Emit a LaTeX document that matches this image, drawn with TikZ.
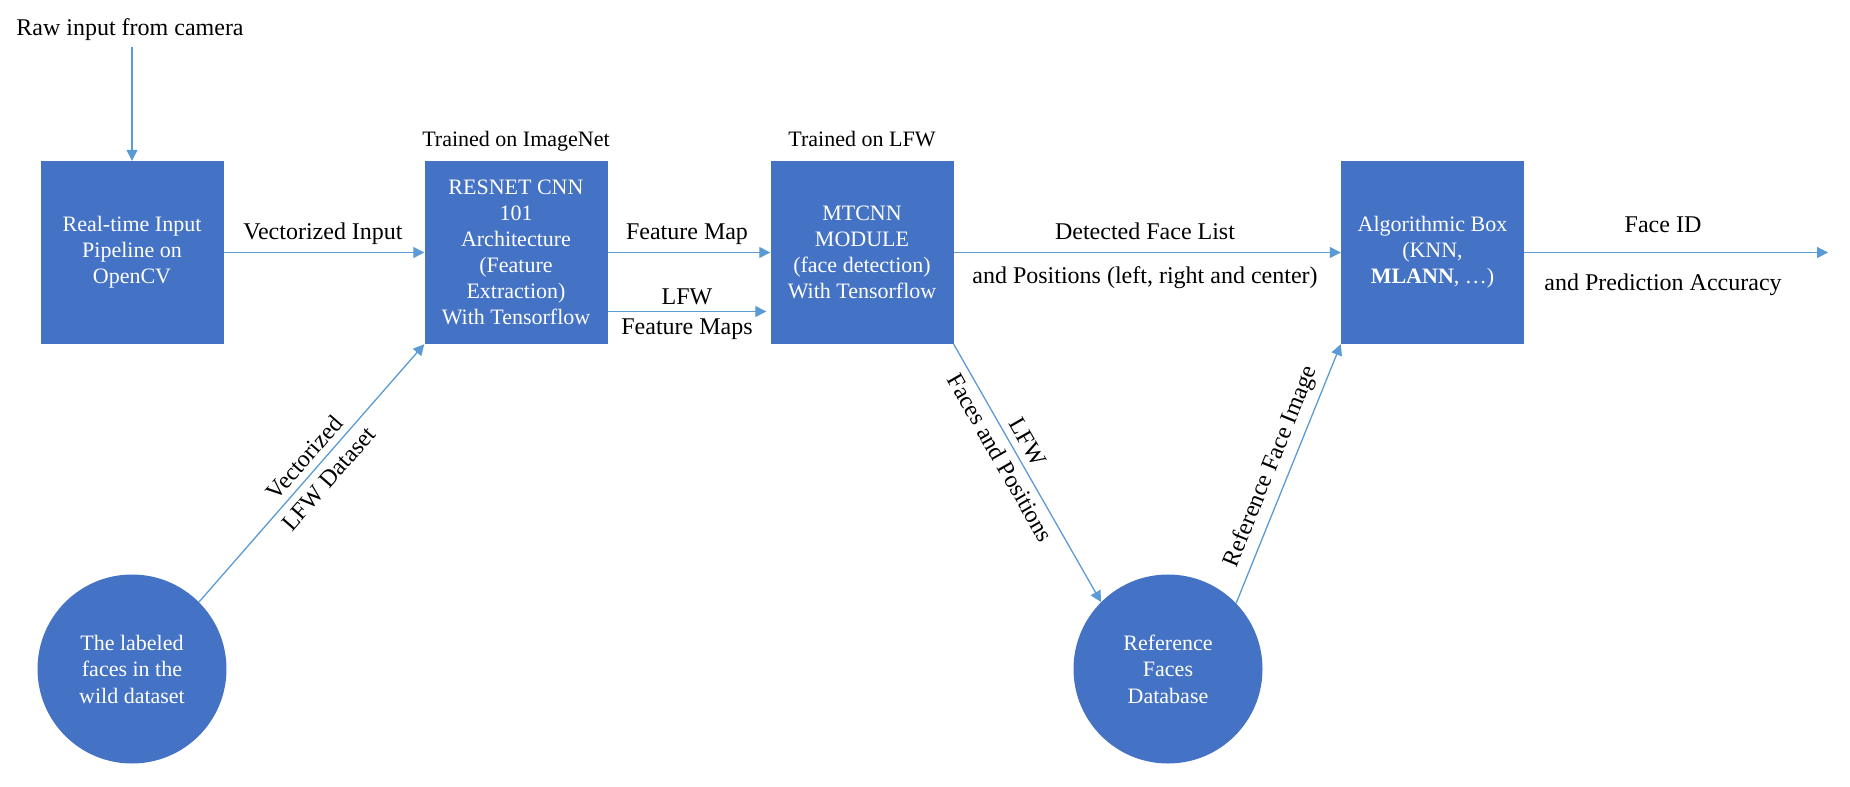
\documentclass[tikz,border=0pt]{standalone}
\usepackage{fontspec}
\setmainfont{Liberation Serif}
\usetikzlibrary{arrows.meta}
\definecolor{boxblue}{HTML}{4472C4}
\definecolor{lineblue}{HTML}{5B9BD5}
\begin{document}
\begin{tikzpicture}[x=1pt,y=-1pt,
  box/.style={rectangle, fill=boxblue, text=white, minimum width=183pt, minimum height=183pt,
    inner sep=0pt, align=center, font=\fontsize{22}{26}\selectfont},
  circ/.style={circle, fill=boxblue, text=white, minimum size=189pt, inner sep=0pt,
    align=center, font=\fontsize{22}{26.5}\selectfont},
  lbl/.style={inner sep=0pt, font=\fontsize{24}{32}\selectfont, align=center},
  toplbl/.style={inner sep=0pt, font=\fontsize{22}{26}\selectfont, anchor=base},
  arr/.style={draw=lineblue, line width=1.3pt, -{Triangle[length=11pt,width=11pt]}}]
\useasboundingbox (0,0) rectangle (1850,787);

% boxes
\node[box] (b1) at (132,252.5) {Real-time Input\\Pipeline on\\OpenCV};
\node[box] (b2) at (516,252.5) {RESNET CNN\\101\\Architecture\\(Feature\\Extraction)\\With Tensorflow};
\node[box] (b3) at (862,252.5) {MTCNN\\MODULE\\(face detection)\\With Tensorflow};
\node[box] (b4) at (1432.5,252.5) {Algorithmic Box\\(KNN,\\\textbf{MLANN}, …)};
\node[circ] (c1) at (132,669) {The labeled\\faces in the\\wild dataset};
\node[circ] (c2) at (1168,669) {Reference\\Faces\\Database};

% top labels
\node[lbl, anchor=base] (raw) at (130,35) {Raw input from camera};
\node[toplbl] (timg) at (516,146) {Trained on ImageNet};
\node[toplbl] (tlfw) at (862,146) {Trained on LFW};

% free ends
\coordinate (rawend) at (132,47);
\coordinate (outend) at (1828,252.5);

% connectors
\draw[arr] (rawend) -- (b1.north);
\draw[arr] (b1.east) -- (b2.west);
\draw[arr] (b2.east) -- (b3.west);
\draw[arr] ([yshift=-59pt]b2.east) -- ([yshift=-59pt,xshift=-4pt]b3.west);
\draw[arr] (b3.east) -- (b4.west);
\draw[arr] (b4.east) -- (outend);
\draw[arr] (c1.45) -- node[lbl, sloped, pos=0.52] (lvec) {Vectorized\\LFW Dataset} (b2.south west);
\draw[arr] (b3.south east) -- node[lbl, sloped, pos=0.41] (lfwf) {LFW\\Faces and Positions} (c2.135);
\draw[arr] (c2.44) -- node[lbl, sloped, pos=0.5, above=7pt] (lref) {Reference Face Image} (b4.south west);

% horizontal edge labels
\node[lbl, anchor=base] (lvi) at (323,239) {Vectorized Input};
\node[lbl, anchor=base] (lfm) at (687,239) {Feature Map};
\node[lbl, anchor=base] (llfw) at (687,304) {LFW};
\node[lbl, anchor=base] (lfms) at (687,334) {Feature Maps};
\node[lbl, anchor=base] (ldet) at (1145,239) {Detected Face List};
\node[lbl, anchor=base] (lpos) at (1145,283) {and Positions (left, right and center)};
\node[lbl, anchor=base] (lfid) at (1663,232) {Face ID};
\node[lbl, anchor=base] (lacc) at (1663,290) {and Prediction Accuracy};
\end{tikzpicture}
\end{document}
